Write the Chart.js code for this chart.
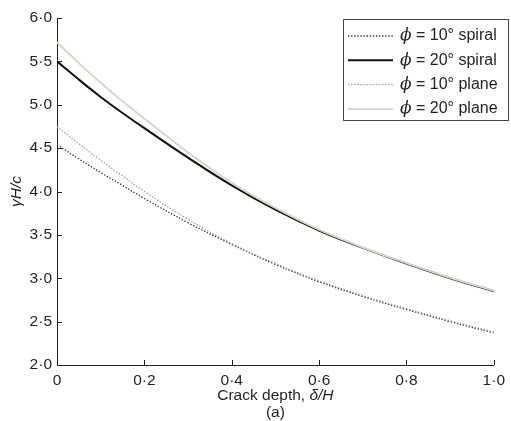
<!DOCTYPE html>
<html>
<head>
<meta charset="utf-8">
<script src="https://cdn.jsdelivr.net/npm/chart.js@4"></script>
<style>
  html, body { margin: 0; padding: 0; background: #fff; }
  #wrap { width: 511px; height: 421px; }
</style>
</head>
<body>
<div id="wrap"><canvas id="chart"></canvas></div>
<script>
// crack depth values (x)
const depth = [0, 0.05, 0.1, 0.15, 0.2, 0.3, 0.4, 0.5, 0.6, 0.7, 0.8, 0.9, 1.0];

// gamma H / c for each case
const spiral10 = [4.54, 4.375, 4.22, 4.07, 3.92, 3.64, 3.39, 3.16, 2.96, 2.79, 2.64, 2.50, 2.37];
const spiral20 = [5.50, 5.29, 5.09, 4.905, 4.73, 4.39, 4.07, 3.79, 3.55, 3.35, 3.17, 3.00, 2.85];
const plane10 = [4.75, 4.55, 4.36, 4.18, 4.00, 3.68, 3.40, 3.17, 2.97, 2.80, 2.65, 2.51, 2.38];
const plane20 = [5.72, 5.48, 5.255, 5.04, 4.84, 4.45, 4.10, 3.81, 3.56, 3.355, 3.175, 3.005, 2.855];

const seriesNames = ['10° spiral', '20° spiral', '10° plane', '20° plane'];
const xTicks = [0, 0.2, 0.4, 0.6, 0.8, 1.0];
const yTicks = [2.0, 2.5, 3.0, 3.5, 4.0, 4.5, 5.0, 5.5, 6.0];

const ink = '#231f20';
const font = '"Liberation Sans", Arial, sans-serif';

function pts(ys) {
    return depth.map((x, i) => ({ x: x, y: ys[i] }));
}

function dotLabel(v) {
    if (v === 0) return '0';
    return v.toFixed(1).replace('.', '·');
}

// inward ticks, legend box and axis titles
const decor = {
    id: 'decor',
    afterDraw(chart) {
        const ctx = chart.ctx;
        const xs = chart.scales.x, ys = chart.scales.y;
        const area = chart.chartArea;
        ctx.save();
        ctx.strokeStyle = ink;
        ctx.lineWidth = 1;
        ctx.beginPath();
        xTicks.forEach(v => {
            const px = Math.round(xs.getPixelForValue(v)) + 0.5;
            ctx.moveTo(px, area.bottom);
            ctx.lineTo(px, area.bottom - 5);
        });
        yTicks.forEach(v => {
            const py = Math.round(ys.getPixelForValue(v)) + 0.5;
            ctx.moveTo(area.left, py);
            ctx.lineTo(area.left + 5, py);
        });
        ctx.stroke();

        // legend
        const bx = 343, by = 19, bw = 165, bh = 101;
        ctx.fillStyle = '#fff';
        ctx.fillRect(bx, by, bw, bh);
        ctx.strokeStyle = '#444';
        ctx.strokeRect(bx + 0.5, by + 0.5, bw, bh);
        chart.data.datasets.forEach((ds, i) => {
            const ry = 36 + i * 24.3;
            ctx.save();
            ctx.strokeStyle = ds.borderColor;
            ctx.lineWidth = ds.borderWidth;
            ctx.setLineDash(ds.borderDash || []);
            ctx.beginPath();
            ctx.moveTo(348, ry);
            ctx.lineTo(393, ry);
            ctx.stroke();
            ctx.restore();
            ctx.fillStyle = ink;
            ctx.textBaseline = 'middle';
            ctx.textAlign = 'left';
            ctx.font = 'italic 17px "DejaVu Serif", serif';
            ctx.fillText('ϕ', 400, ry);
            const w = ctx.measureText('ϕ').width;
            ctx.font = '16px ' + font;
            ctx.fillText(' = ' + seriesNames[i], 400 + w, ry);
        });

        // x title: mixed roman / italic
        ctx.fillStyle = ink;
        ctx.textBaseline = 'middle';
        ctx.textAlign = 'left';
        const cx = (area.left + area.right) / 2;
        const p1 = 'Crack depth, ', p2 = 'δ/H';
        ctx.font = '15.5px ' + font;
        const w1 = ctx.measureText(p1).width;
        ctx.font = 'italic 15.5px ' + font;
        const w2 = ctx.measureText(p2).width;
        const sx = cx - (w1 + w2) / 2;
        ctx.font = '15.5px ' + font;
        ctx.fillText(p1, sx, 396);
        ctx.font = 'italic 15.5px ' + font;
        ctx.fillText(p2, sx + w1, 396);
        ctx.font = '15.5px ' + font;
        ctx.textAlign = 'center';
        ctx.fillText('(a)', cx, 413);

        // y title
        ctx.save();
        ctx.translate(17, (area.top + area.bottom) / 2);
        ctx.rotate(-Math.PI / 2);
        ctx.font = 'italic 15.5px ' + font;
        ctx.textAlign = 'center';
        ctx.fillText('γH/c', 0, 0);
        ctx.restore();
        ctx.restore();
    }
};

new Chart(document.getElementById('chart'), {
    type: 'line',
    data: {
        datasets: [{
            label: seriesNames[0],
            data: pts(spiral10),
            borderColor: '#333',
            borderWidth: 1.3,
            borderDash: [1.4, 1.7],
            order: 1
        }, {
            label: seriesNames[1],
            data: pts(spiral20),
            borderColor: '#111',
            borderWidth: 2,
            order: 3
        }, {
            label: seriesNames[2],
            data: pts(plane10),
            borderColor: '#9e9e9e',
            borderWidth: 1.3,
            borderDash: [1.4, 1.7],
            order: 0
        }, {
            label: seriesNames[3],
            data: pts(plane20),
            borderColor: '#d9d6cf',
            borderWidth: 2,
            order: 2
        }]
    },
    options: {
        responsive: true,
        maintainAspectRatio: false,
        animation: false,
        elements: {
            point: { radius: 0 },
            line: { tension: 0.4, fill: false }
        },
        layout: { padding: { top: 18, right: 15, left: 0, bottom: 0 } },
        plugins: {
            legend: { display: false },
            tooltip: { enabled: false }
        },
        scales: {
            x: {
                type: 'linear',
                min: 0,
                max: 1,
                afterBuildTicks: s => { s.ticks = xTicks.map(v => ({ value: v })); },
                afterFit: s => { s.height = 56; },
                grid: { display: false, drawTicks: false },
                border: { display: true, color: ink, width: 1 },
                ticks: {
                    padding: 6,
                    color: ink,
                    font: { family: font, size: 15.5 },
                    maxRotation: 0,
                    callback: v => dotLabel(v)
                }
            },
            y: {
                type: 'linear',
                min: 2,
                max: 6,
                afterBuildTicks: s => { s.ticks = yTicks.map(v => ({ value: v })); },
                afterFit: s => { s.width = 57; },
                grid: { display: false, drawTicks: false },
                border: { display: true, color: ink, width: 1 },
                ticks: {
                    padding: 5,
                    color: ink,
                    font: { family: font, size: 15.5 },
                    callback: v => v.toFixed(1).replace('.', '·')
                }
            }
        }
    },
    plugins: [decor]
});
</script>
</body>
</html>
